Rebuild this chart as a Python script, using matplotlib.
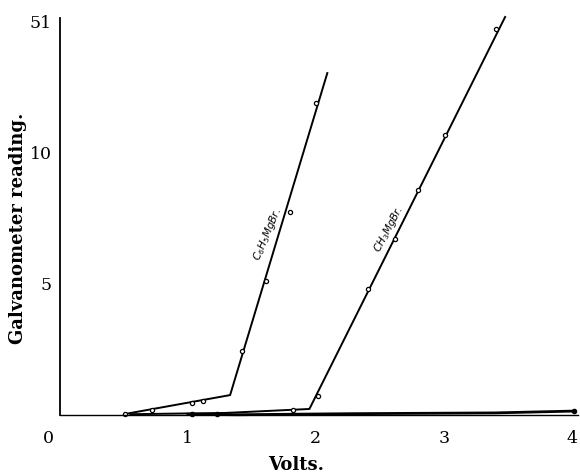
import matplotlib
matplotlib.use("Agg")
import matplotlib.pyplot as plt
from matplotlib.transforms import ScaledTranslation

# values (volts, galvanometer reading)
phenyl_line_x = [0.51, 1.33, 2.09]
phenyl_line_y = [0.04, 0.76, 13.05]
phenyl_pts_x = [0.51, 0.72, 1.03, 1.12, 1.42, 1.61, 1.80, 2.00]
phenyl_pts_y = [0.04, 0.19, 0.46, 0.53, 2.44, 5.11, 7.75, 11.9]

methyl_line_x = [0.55, 1.30, 1.95, 3.48]
methyl_line_y = [0.03, 0.08, 0.23, 15.19]
methyl_pts_x = [1.82, 2.02, 2.41, 2.62, 2.80, 3.01, 3.41]
methyl_pts_y = [0.19, 0.73, 4.81, 6.72, 8.59, 10.69, 14.73]

base_line_x = [1.00, 1.39, 2.27, 3.40, 4.02]
base_line_y = [0.03, 0.01, 0.05, 0.08, 0.15]
base_pts_x = [1.03, 1.23, 4.02]
base_pts_y = [0.04, 0.04, 0.15]

xticks = [0, 1, 2, 3, 4]
yticks = [5, 10, 15]
ytick_labels = ["5", "10", "51"]

serif = "DejaVu Serif"

fig = plt.figure(figsize=(5.8, 4.75), dpi=100)
ax = fig.add_axes([60 / 580, 60 / 475, 518 / 580, 403.5 / 475])
ax.set_xlim(0, 4.05)
ax.set_ylim(0, 15.4)

lw = 1.4
ax.plot(phenyl_line_x, phenyl_line_y, color="black", lw=lw, clip_on=False)
ax.plot(phenyl_pts_x, phenyl_pts_y, "o", ms=3, mfc="white", mec="black", mew=0.9, clip_on=False)
ax.plot(methyl_line_x, methyl_line_y, color="black", lw=lw, clip_on=False)
ax.plot(methyl_pts_x, methyl_pts_y, "o", ms=3, mfc="white", mec="black", mew=0.9, clip_on=False)
ax.plot(base_line_x, base_line_y, color="black", lw=lw + 0.6, clip_on=False)
ax.plot(base_pts_x, base_pts_y, "o", ms=3, color="black", clip_on=False)

# curve names written along the lines
ax.text(1.62, 6.9, r"C$_6$H$_5$MgBr.", rotation=67, ha="center", va="center",
        fontsize=7.5, style="italic")
ax.text(2.57, 7.1, r"CH$_3$MgBr.", rotation=62, ha="center", va="center",
        fontsize=7.5, style="italic")

for s in ["top", "right"]:
    ax.spines[s].set_visible(False)
ax.spines["left"].set_bounds(0, 15.15)
ax.spines["left"].set_linewidth(1.3)
ax.spines["bottom"].set_linewidth(1.0)

ax.set_xticks(xticks)
ax.set_xticklabels([str(t) for t in xticks], family=serif, fontsize=12.5)
ax.set_yticks(yticks)
ax.set_yticklabels(ytick_labels, family=serif, fontsize=12.5)
ax.tick_params(axis="x", length=0, pad=11)
ax.tick_params(axis="y", length=0, pad=6)

# the "0" sits left of the corner, serving both axes
lab0 = ax.get_xticklabels()[0]
lab0.set_transform(lab0.get_transform() + ScaledTranslation(-12 / 100, 0, fig.dpi_scale_trans))

fig.text(296 / 580, 1 - 465 / 475, "Volts.", ha="center", va="center",
         family=serif, fontweight="bold", fontsize=13)
fig.text(18 / 580, 1 - 228 / 475, "Galvanometer reading.", rotation=90,
         ha="center", va="center", family=serif, fontweight="bold", fontsize=13)

fig.savefig("out.png", dpi=100)
